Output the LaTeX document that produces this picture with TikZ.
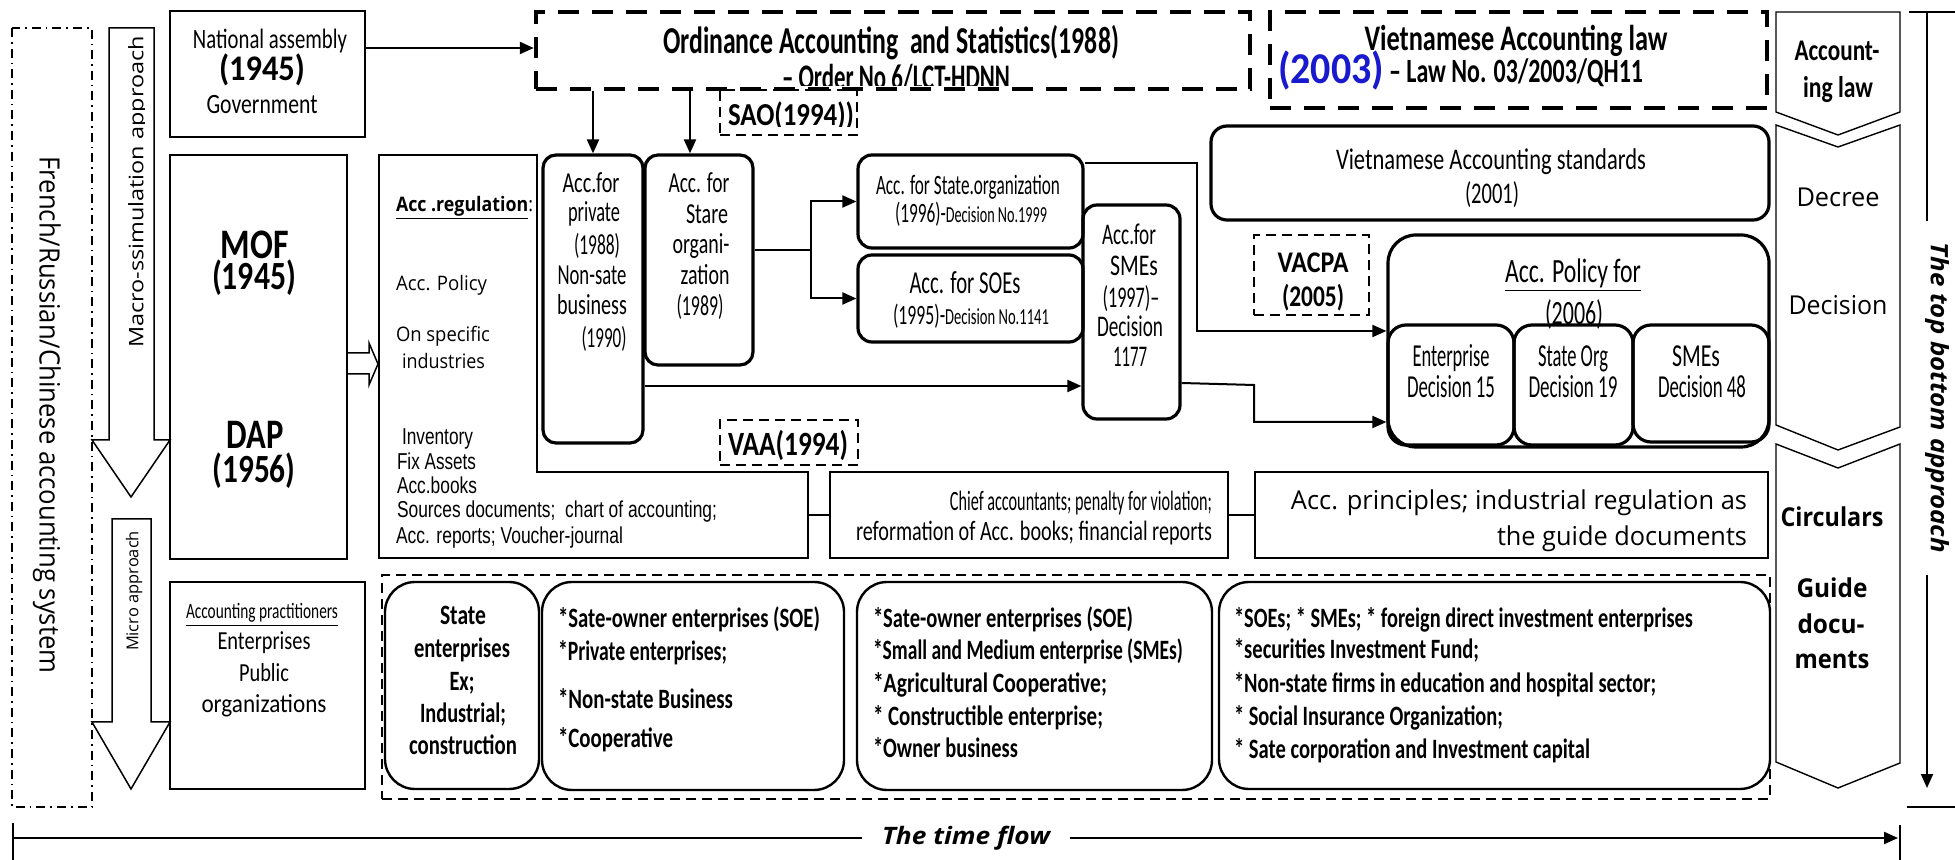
\documentclass[tikz,border=0pt]{standalone}
\usepackage{fontspec}
\usepackage{graphicx}
\usetikzlibrary{arrows.meta,fit}
\newfontfamily\calfam{Carlito}
\newfontfamily\osfam{Open Sans}
\newfontfamily\arfam{Liberation Sans}
\newcommand\fC[1]{\calfam\fontsize{#1}{#1}\selectfont}
\newcommand\fCb[1]{\calfam\bfseries\fontsize{#1}{#1}\selectfont}
\newcommand\fO[1]{\osfam\fontsize{#1}{#1}\selectfont}
\newcommand\fOb[1]{\osfam\bfseries\fontsize{#1}{#1}\selectfont}
\newcommand\fObi[1]{\osfam\bfseries\itshape\fontsize{#1}{#1}\selectfont}
\newcommand\fA[1]{\arfam\fontsize{#1}{#1}\selectfont}
\newdimen\pxu \pxu=0.5pt
% squeeze a line horizontally to a given width (in drawing units)
\newcommand\fitw[2]{\resizebox{#1\pxu}{\height}{#2}}
\definecolor{lawblue}{RGB}{25,25,205}
% one line of text as a named node: [anchor]{family}{size}{name}{position}{text};
% the shift puts the visual middle of the letters on the given position
\newcommand\tx[6][mid]{\node[txt,anchor=#1,font=\csname f#2\endcsname{#3},yshift={(2.15-0.3*#3)*1pt}] (#4) at (#5) {#6};}

\begin{document}
\begin{tikzpicture}[x=0.5pt,y=-0.5pt,
  txt/.style={inner sep=0pt,outer sep=0pt},
  lineA/.style={line width=0.85pt},
  lineB/.style={line width=0.75pt},
  sq/.style={draw,lineA,inner sep=0pt},
  rbox/.style={draw,line width=1.6pt,rounded corners=6.5pt,inner sep=0pt},
  lawbox/.style={draw,line width=2.2pt,dash pattern=on 10.5pt off 6.5pt,inner sep=0pt},
  dbox/.style={draw,line width=0.8pt,dash pattern=on 5pt off 3pt,inner sep=0pt},
  gbox/.style={draw,line width=1.2pt,rounded corners=15pt,inner sep=0pt},
  arr/.style={line width=1pt,-{Triangle[length=7pt,width=6pt]}},
  conn/.style={line width=1pt}]

\fill[white] (0,0) rectangle (1955,860);
\useasboundingbox (0,0) rectangle (1955,860);

%---------------- left frame and approach arrows
\draw[line width=0.6pt,dash pattern=on 4.5pt off 2.5pt on 0.8pt off 2.5pt] (12,28) rectangle (92,807);
\node[txt,rotate=-90,font=\fO{14}] (frt) at (47,415) {\fitw{517}{French/Russian/Chinese accounting system}};

\draw[lineB] (109,28) -- (154,28) -- (154,440) -- (170,440) -- (131,497) -- (92,440) -- (109,440) -- cycle;
\begin{scope}
  \clip (109,28) rectangle (144,440);
  \node[txt,rotate=90,anchor=mid west,font=\fO{10}] (mact) at (139,348) {\fitw{312}{Macro-ssimulation approach}};
\end{scope}

\draw[lineB] (112,519) -- (151,519) -- (151,722) -- (170,722) -- (131,789) -- (92,722) -- (112,722) -- cycle;
\node[txt,rotate=90,anchor=mid west,font=\fO{8.2}] (mict) at (134,651) {\fitw{120}{Micro approach}};

%---------------- institutions
\node[sq,fit={(170,11) (365,137)}] (nat) {};
\tx{C}{14}{n1}{270,40}{\fitw{154}{National assembly}}
\tx{Cb}{18}{n2}{262,70}{\fitw{86}{(1945)}}
\tx{C}{14}{n3}{262,105}{\fitw{111}{Government}}

\node[sq,fit={(170,155) (347,559)}] (mof) {};
\tx{Cb}{21}{m1}{255,246}{\fitw{68}{MOF}}
\tx{Cb}{20}{m2}{254,277}{\fitw{84}{(1945)}}
\tx{Cb}{21}{m3}{255,436}{\fitw{57}{DAP}}
\tx{Cb}{20}{m4}{254,470}{\fitw{83}{(1956)}}

\node[sq,fit={(170,582) (365,789)}] (prac) {};
\tx{C}{11}{p1}{262,612}{\fitw{152}{\underline{Accounting practitioners}}}
\tx{C}{13}{p2}{264,642}{\fitw{93}{Enterprises}}
\tx{C}{13}{p3}{264,674}{\fitw{50}{Public}}
\tx{C}{13}{p4}{264,705}{\fitw{125}{organizations}}

% hollow arrow towards the regulation field
\draw[lineB] (mof.east |- 0,353) -- (369,353) -- (369,343) -- (378,364) -- (369,385) -- (369,374) -- (mof.east |- 0,374);

%---------------- regulation field
\draw[lineA] (379,155) -- (537,155) -- (537,472) -- (808,472) -- (808,558) -- (379,558) -- cycle;
\coordinate (regR) at (808,515);
\tx[mid west]{O}{10}{r1}{396,205}{\fitw{137}{\underline{\textbf{Acc .regulation}}:}}
\tx[mid west]{O}{10}{r2}{396,284}{\fitw{91}{Acc. Policy}}
\tx[mid west]{O}{10}{r3}{396,335}{\fitw{94}{On specific}}
\tx[mid west]{O}{10}{r4}{402,362}{\fitw{83}{industries}}
\tx[mid west]{A}{11.5}{r5}{402,438}{\fitw{71}{Inventory}}
\tx[mid west]{A}{11.5}{r6}{397,463}{\fitw{79}{Fix Assets}}
\tx[mid west]{A}{11.5}{r7}{397,487}{\fitw{80}{Acc.books}}
\tx[mid west]{A}{11.5}{r8}{397,511}{\fitw{320}{Sources documents;\ \ chart of accounting;}}
\tx[mid west]{A}{11.5}{r9}{396,537}{\fitw{227}{Acc. reports; Voucher-journal}}

%---------------- laws
\node[lawbox,fit={(536,12) (1250,89)}] (ord) {};
\tx{Cb}{19}{o1}{891,42}{\fitw{456}{Ordinance Accounting\ \ and Statistics(1988)}}
\begin{scope}
  \clip (536,12) rectangle (1250,86);
  \tx{Cb}{18}{o2}{896,79}{\fitw{228}{– Order No 6/LCT-HDNN}}
\end{scope}

\node[lawbox,fit={(1270,12) (1767,108)}] (vlaw) {};
\tx{Cb}{18}{i1}{1516,40}{\fitw{303}{Vietnamese Accounting law}}
\tx[mid west]{Cb}{22}{i2}{1278,70}{\color{lawblue}\fitw{106}{(2003)}}
\tx[mid west]{Cb}{17}{i3}{1389,72}{\fitw{254}{– Law No. 03/2003/QH11}}

\node[dbox,fit={(720,90) (857,135)}] (sao) {};
\begin{scope}
  \clip (720,90) rectangle (857,127);
  \tx{Cb}{16}{s1}{791,116}{\fitw{126}{SAO(1994))}}
\end{scope}

\draw[arr] (nat.east |- 0,48) -- (ord.west |- 0,48);

%---------------- accounting regimes
\node[rbox,fit={(543,155) (643,443)}] (priv) {};
\tx{C}{14.5}{a1}{591,184}{\fitw{57}{Acc.for}}
\tx{C}{14.5}{a2}{594,213}{\fitw{52}{private}}
\tx{C}{14.5}{a3}{597,246}{\fitw{46}{(1988)}}
\tx{C}{14.5}{a4}{592,276}{\fitw{69}{Non-sate}}
\tx{C}{14.5}{a5}{592,306}{\fitw{70}{business}}
\tx{C}{14.5}{a6}{604,339}{\fitw{45}{(1990)}}

\node[rbox,fit={(645,155) (753,365)}] (stare) {};
\tx{C}{14.5}{b1t}{699,184}{\fitw{61}{Acc. for}}
\tx{C}{14.5}{b2t}{707,215}{\fitw{42}{Stare}}
\tx{C}{14.5}{b3t}{701,245}{\fitw{57}{organi-}}
\tx{C}{14.5}{b4t}{705,276}{\fitw{49}{zation}}
\tx{C}{14.5}{b5t}{700,307}{\fitw{47}{(1989)}}

\draw[arr] (priv.north |- ord.south) -- (priv.north);
\draw[arr] ([xshift=-4.5pt]stare.north |- ord.south) -- ([xshift=-4.5pt]stare.north);

\node[rbox,rounded corners=7pt,fit={(858,155) (1083,248)}] (sorg) {};
\tx{C}{14}{c1}{968,186}{\fitw{184}{Acc. for State.organization}}
\tx{C}{14}{c2}{971,214}{\fitw{152}{(1996)-{\fontsize{11.5}{11.5}\selectfont Decision No.1999}}}

\node[rbox,rounded corners=7pt,fit={(858,255) (1083,342)}] (soes) {};
\tx{C}{16}{c3}{965,284}{\fitw{111}{Acc. for SOEs}}
\tx{C}{14}{c4}{971,316}{\fitw{156}{(1995)-{\fontsize{11.5}{11.5}\selectfont Decision No.1141}}}

\node[rbox,rounded corners=7pt,fit={(1083,205) (1180,419)}] (smes) {};
\tx{C}{15}{d1}{1129,235}{\fitw{54}{Acc.for}}
\tx{C}{15}{d2}{1134,266}{\fitw{48}{SMEs}}
\tx{C}{15}{d3}{1131,298}{\fitw{57}{(1997)–}}
\tx{C}{15}{d4}{1130,327}{\fitw{66}{Decision}}
\tx{C}{15}{d5}{1130,357}{\fitw{34}{1177}}

\coordinate (spl) at (811,250);
\draw[conn] (stare.east |- spl) -- (spl);
\draw[arr] (spl) |- (sorg.west);
\draw[arr] (spl) |- (soes.west);
\draw[arr] (priv.east |- 0,386) -- (smes.west |- 0,386);

\node[dbox,fit={(720,420) (858,465)}] (vaa) {};
\tx{Cb}{17}{v1}{788,445}{\fitw{120}{VAA(1994)}}

\node[dbox,fit={(1254,235) (1369,315)}] (vacpa) {};
\tx{Cb}{15}{e1}{1313,263}{\fitw{71}{VACPA}}
\tx{Cb}{15}{e2}{1313,297}{\fitw{62}{(2005)}}

\node[rbox,rounded corners=8pt,fit={(1211,126) (1769,220)}] (vas) {};
\tx{C}{15}{f1}{1491,160}{\fitw{310}{Vietnamese Accounting standards}}
\tx{C}{15}{f2}{1492,194}{\fitw{54}{(2001)}}

\node[rbox,rounded corners=14pt,fit={(1388,235) (1769,447)}] (pol) {};
\tx{C}{17}{g1}{1573,272}{\fitw{136}{\underline{Acc. Policy for}}}
\tx{C}{17}{g2}{1574,314}{\fitw{58}{(2006)}}
\node[rbox,rounded corners=9pt,fit={(1388,325) (1514,445)}] (ent) {};
\node[rbox,rounded corners=9pt,fit={(1514,325) (1633,445)}] (sto) {};
\node[rbox,rounded corners=9pt,fit={(1633,325) (1769,442)}] (sme) {};
\tx{C}{16}{h1}{1451,357}{\fitw{77}{Enterprise}}
\tx{C}{16}{h2}{1451,388}{\fitw{88}{Decision 15}}
\tx{C}{16}{h3}{1573,357}{\fitw{70}{State Org}}
\tx{C}{16}{h4}{1573,388}{\fitw{89}{Decision 19}}
\tx{C}{16}{h5}{1696,357}{\fitw{48}{SMEs}}
\tx{C}{16}{h6}{1702,388}{\fitw{88}{Decision 48}}

\draw[arr] (sorg.east |- 0,163) -| (1197,331) -- (pol.west |- 0,331);
\draw[arr] (smes.east |- 0,383) -- (1254,385) |- (pol.west |- 0,422);

%---------------- circulars row
\node[sq,fit={(830,472) (1228,558)}] (chief) {};
\tx[mid east]{C}{14}{q1}{1212,502}{\fitw{262}{Chief accountants; penalty for violation;}}
\tx[mid east]{C}{14}{q2}{1212,532}{\fitw{356}{reformation of Acc. books; financial reports}}
\node[sq,fit={(1255,472) (1768,558)}] (princ) {};
\tx[mid east]{O}{13}{u1}{1747,502}{\fitw{456}{Acc. principles; industrial regulation as}}
\tx[mid east]{O}{13}{u2}{1747,538}{\fitw{250}{the guide documents}}
\draw[conn] (regR |- chief.west) -- (chief.west);
\draw[conn] (chief.east) -- (princ.west);

%---------------- guide documents row
\node[dbox,fit={(382,575) (1770,799)}] (bot) {};
\node[gbox,fit={(385,582) (539,789)}] (g1b) {};
\node[gbox,fit={(542,582) (844,790)}] (g2b) {};
\node[gbox,fit={(857,582) (1212,790)}] (g3b) {};
\node[gbox,fit={(1219,582) (1770,789)}] (g4b) {};
\tx{Cb}{14}{w1}{463,616}{\fitw{46}{State}}
\tx{Cb}{14}{w2}{462,649}{\fitw{96}{enterprises}}
\tx{Cb}{14}{w3}{462,682}{\fitw{25}{Ex;}}
\tx{Cb}{14}{w4}{463,714}{\fitw{86}{Industrial;}}
\tx{Cb}{14}{w5}{463,746}{\fitw{108}{construction}}
\tx[mid west]{Cb}{14}{x1}{558,619}{\fitw{262}{*Sate-owner enterprises (SOE)}}
\tx[mid west]{Cb}{14}{x2}{558,652}{\fitw{169}{*Private enterprises;}}
\tx[mid west]{Cb}{14}{x3}{558,700}{\fitw{175}{*Non-state Business}}
\tx[mid west]{Cb}{14}{x4}{558,739}{\fitw{115}{*Cooperative}}
\tx[mid west]{Cb}{14}{y1}{873,619}{\fitw{260}{*Sate-owner enterprises (SOE)}}
\tx[mid west]{Cb}{14}{y2}{873,651}{\fitw{310}{*Small and Medium enterprise (SMEs)}}
\tx[mid west]{Cb}{14}{y3}{873,684}{\fitw{234}{*Agricultural Cooperative;}}
\tx[mid west]{Cb}{14}{y4}{873,717}{\fitw{230}{* Constructible enterprise;}}
\tx[mid west]{Cb}{14}{y5}{873,749}{\fitw{145}{*Owner business}}
\tx[mid west]{Cb}{14}{z1}{1234,619}{\fitw{459}{*SOEs; * SMEs; * foreign direct investment enterprises}}
\tx[mid west]{Cb}{14}{z2}{1234,650}{\fitw{245}{*securities Investment Fund;}}
\tx[mid west]{Cb}{14}{z3}{1234,684}{\fitw{422}{*Non-state firms in education and hospital sector;}}
\tx[mid west]{Cb}{14}{z4}{1234,717}{\fitw{269}{* Social Insurance Organization;}}
\tx[mid west]{Cb}{14}{z5}{1234,750}{\fitw{356}{* Sate corporation and Investment capital}}

%---------------- hierarchy of documents
\draw[line width=0.7pt] (1776,12) -- (1900,12) -- (1900,112) -- (1838,135) -- (1776,112) -- cycle;
\draw[line width=0.7pt] (1776,125) -- (1838,147) -- (1900,125) -- (1900,427) -- (1838,450) -- (1776,425) -- cycle;
\draw[line width=0.7pt] (1776,444) -- (1838,468) -- (1900,444) -- (1900,763) -- (1838,788) -- (1776,762) -- cycle;
\tx{Cb}{15}{j1}{1837,51}{\fitw{85}{Account-}}
\tx{Cb}{15}{j2}{1838,88}{\fitw{70}{ing law}}
\tx{O}{13}{k1}{1838,199}{\fitw{83}{Decree}}
\tx{O}{13}{k2}{1838,307}{\fitw{99}{Decision}}
\tx{Ob}{13}{l1}{1832,519}{\fitw{103}{Circulars}}
\tx{Ob}{13}{l2}{1832,590}{\fitw{71}{Guide}}
\tx{Ob}{13}{l3}{1831,626}{\fitw{67}{docu-}}
\tx{Ob}{13}{l4}{1832,661}{\fitw{75}{ments}}

%---------------- direction of reading
\coordinate (tbTop) at (1927,12);
\coordinate (tbEnd) at (1927,788);
\draw[lineA] (1909,12) -- (1955,12);
\draw[lineA] (1907,807) -- (1955,807);
\draw[arr] (tbTop) -- (tbEnd);
\node[txt,rotate=-90,fill=white,inner xsep=11pt,inner ysep=2pt,font=\fObi{12}] (tbt) at (1937,398) {\fitw{310}{The top bottom approach}};

\coordinate (tfL) at (13,838);
\coordinate (tfR) at (1898,838);
\draw[lineA] (13,823) -- (13,860);
\draw[lineA] (1900,825) -- (1900,860);
\draw[arr] (tfL) -- (tfR);
\node[txt,fill=white,inner xsep=10pt,inner ysep=2pt,font=\fObi{12}] (tft) at (966,838) {\fitw{168}{The time flow}};

\end{tikzpicture}
\end{document}
